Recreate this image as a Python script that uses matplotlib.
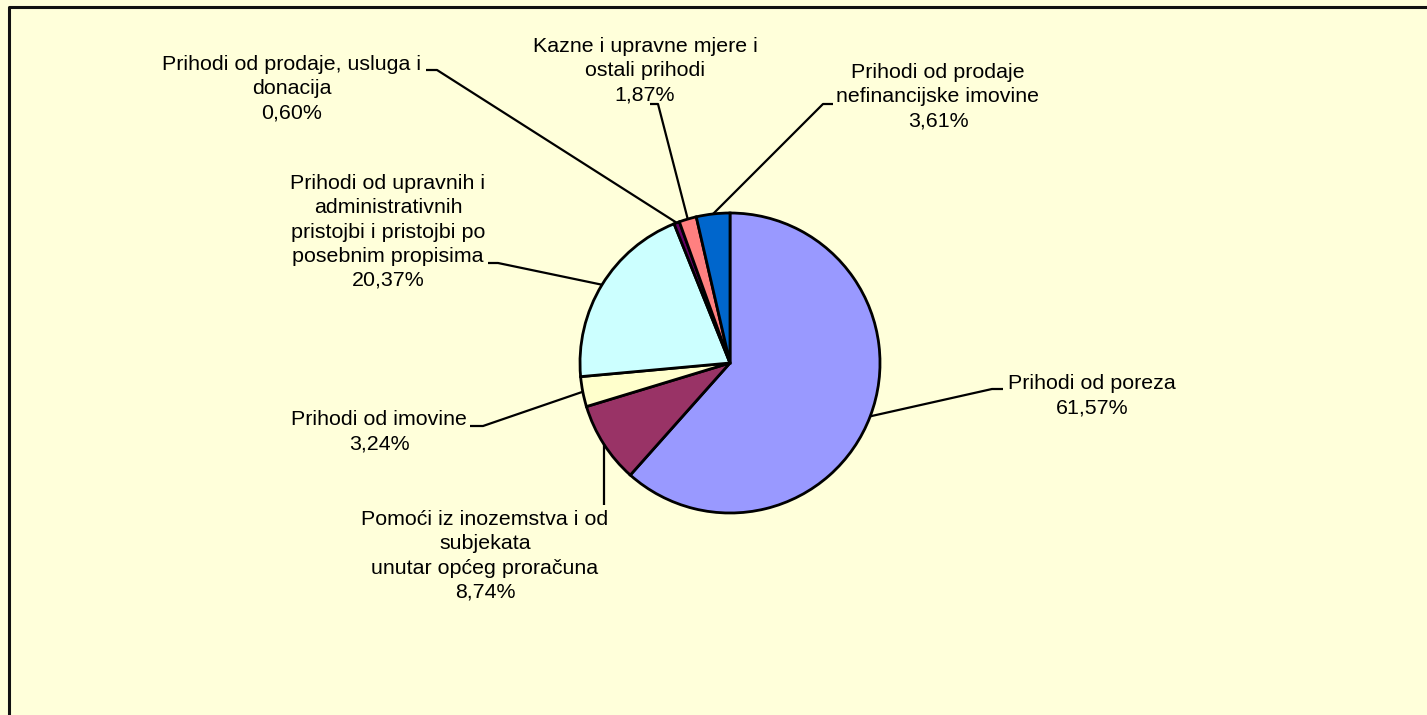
import numpy as np
import matplotlib.pyplot as plt

plt.rcParams['font.family'] = ['Liberation Sans', 'DejaVu Sans']

W, H = 1427, 715

labels = [
    "Prihodi od poreza",
    "Pomoći iz inozemstva i od\nsubjekata\nunutar općeg proračuna",
    "Prihodi od imovine",
    "Prihodi od upravnih i\nadministrativnih\npristojbi i pristojbi po\nposebnim propisima",
    "Prihodi od prodaje, usluga i\ndonacija",
    "Kazne i upravne mjere i\nostali prihodi",
    "Prihodi od prodaje\nnefinancijske imovine",
]
shares = [61.57, 8.74, 3.24, 20.37, 0.60, 1.87, 3.61]
colors = ["#9999FF", "#993366", "#FFFFCC", "#CCFFFF", "#660066", "#FF8080", "#0066CC"]

# label layout in pixels (from top-left): text centre, leader elbow, leader end
text_pos = [(1092, 396), (485, 556), (379, 432), (388, 232), (292, 89), (645, 71), (938, 97)]
elbows = [(992, 389), None, (483, 426), (498, 263), (437, 70), (658, 104), (823, 104)]
ends = [(1003, 389), (602, 505), (470, 426), (488, 263), (426, 70), (650, 104), (833, 104)]

bg = "#FFFFDA"
cx, cy, R = 730, 363, 150


def py(y):
    return H - y


fig = plt.figure(figsize=(W / 100, H / 100), dpi=100, facecolor=bg)
ax = fig.add_axes([0, 0, 1, 1])
ax.set_facecolor(bg)

wedges, _ = ax.pie(shares, colors=colors, startangle=90, counterclock=False,
                   center=(cx, py(cy)), radius=R,
                   wedgeprops=dict(edgecolor="black", linewidth=2.0))
ax.set_xlim(0, W)
ax.set_ylim(0, H)
ax.set_aspect("auto")
ax.axis("off")

# chart border (only top and left visible in the crop)
ax.plot([9, 9, W + 10], [-10, py(7), py(7)], color="#111111", lw=2.2,
        solid_capstyle="butt", clip_on=False)

cum = np.cumsum([0] + shares[:-1])
for i, (lab, v) in enumerate(zip(labels, shares)):
    mid = 90 - (cum[i] + v / 2) * 3.6
    ax_x = cx + R * np.cos(np.radians(mid))
    ax_y = cy - R * np.sin(np.radians(mid))
    if elbows[i] is not None:
        pts = [(ax_x, ax_y), elbows[i], ends[i]]
    else:
        pts = [(ax_x, ax_y), (ax_x, ends[i][1])]
    xs = [p[0] for p in pts]
    ys = [py(p[1]) for p in pts]
    ax.plot(xs, ys, color="black", lw=1.6, solid_capstyle="butt")
    pct = f"{v:.2f}%".replace(".", ",")
    tx, ty = text_pos[i]
    ax.text(tx, py(ty), lab + "\n" + pct, ha="center", va="center",
            fontsize=15.4, color="black", linespacing=1.34)

fig.savefig("out.png", dpi=100, facecolor=bg)
